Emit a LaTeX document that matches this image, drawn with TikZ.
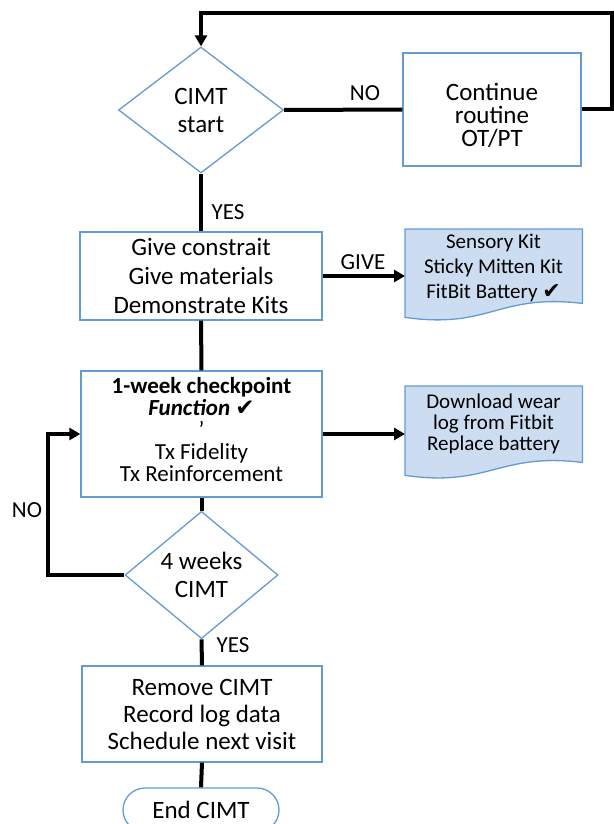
\documentclass[tikz,border=0pt]{standalone}
\usepackage{fontspec}
\setmainfont{Carlito}
\newfontfamily\symfont{DejaVu Sans}
\usetikzlibrary{shapes.geometric,arrows.meta}
\definecolor{boxblue}{RGB}{100,155,210}
\definecolor{docfill}{RGB}{204,221,241}
\newcommand{\tick}[1]{{\symfont\fontsize{#1}{#1}\selectfont ✔}}
\tikzset{
  conn/.style={line width=4pt,black},
  arr/.style={conn,-{Triangle[length=11pt,width=12pt]}},
  pbox/.style={draw=boxblue,line width=1.3pt,fill=white,rectangle,inner sep=0pt,align=center},
  dec/.style={draw=boxblue,line width=1.3pt,fill=white,diamond,inner sep=0pt,align=center},
  docbox/.style={rectangle,inner sep=0pt,align=center,anchor=north west},
  docshape/.style={draw=boxblue,line width=1.3pt,fill=docfill},
  lbl/.style={font=\fontsize{23}{23}\selectfont,inner sep=0pt},
  main/.style={font=\fontsize{25}{28}\selectfont},
}
\begin{document}
\begin{tikzpicture}[x=1pt,y=-1pt]
\useasboundingbox (0,0) rectangle (613,824);

% decision 1
\node[dec,main,minimum width=165pt,minimum height=126pt] (start) at (201,110) {CIMT\\start};
\node[pbox,minimum width=178pt,minimum height=113pt] (cont) at (492,109.5) {};
\node[font=\fontsize{25}{23}\selectfont,align=center,inner sep=0pt] (conttext) at (492,115) {Continue\\routine\\OT/PT};

% give box
\node[pbox,minimum width=242pt,minimum height=88pt,font=\fontsize{25}{29}\selectfont] (give) at (201,276) {Give constrait\\Give materials\\Demonstrate Kits};

% kit document
\node[docbox,minimum width=177pt,minimum height=74pt] (kit) at (405,229) {};
\draw[docshape] (kit.north west) -- (kit.north east) -- (kit.south east)
  .. controls +(-85,-10) and +(85,12) .. ([yshift=-14pt]kit.south west) -- cycle;
\node[font=\fontsize{21}{25}\selectfont,align=center,inner sep=0pt] (kittext) at (493.5,268) {Sensory Kit\\Sticky Mitten Kit\\FitBit Battery \tick{22}};

% checkpoint
\node[pbox,minimum width=241pt,minimum height=126pt] (check) at (201.5,434) {};
\node[font=\fontsize{23}{22}\selectfont,align=center,inner sep=0pt] (checktext) at (201.5,430)
  {\textbf{1-week checkpoint}\\\textbf{\textit{Function}} \tick{23}\\'\\Tx Fidelity\\Tx Reinforcement};

% log document
\node[docbox,minimum width=177pt,minimum height=76pt] (log) at (405,386) {};
\draw[docshape] (log.north west) -- (log.north east) -- (log.south east)
  .. controls +(-85,-10) and +(85,12) .. ([yshift=-13pt]log.south west) -- cycle;
\node[font=\fontsize{21}{21}\selectfont,align=center,inner sep=0pt] (logtext) at (493.5,424) {Download wear\\log from Fitbit\\Replace battery};

% decision 2
\node[dec,main,minimum width=153pt,minimum height=104pt] (weeks) at (201.5,575) {4 weeks\\CIMT};

% remove box
\node[pbox,minimum width=240pt,minimum height=96pt,font=\fontsize{25}{27}\selectfont] (rem) at (202,714) {Remove CIMT\\Record log data\\Schedule next visit};

% end
\node[draw=boxblue,line width=1.3pt,fill=white,rectangle,rounded corners=22pt,minimum width=156pt,minimum height=44pt,inner sep=0pt,main] (end) at (201,810) {End CIMT};

% connectors
\coordinate (tr) at (612,13);
\draw[arr] (cont.east) -| (tr) -| (start.north);
\draw[conn] (start.east) -- (cont.west);
\node[lbl] (no1) at (365,93) {NO};
\draw[conn] (start.south) -- (give.north);
\node[lbl] (yes1) at (228,212) {YES};
\draw[arr] (give.east) -- (give.east -| kit.west);
\node[lbl] (givel) at (363,262) {GIVE};
\draw[conn] (give.south) -- (check.north);
\draw[arr] (check.east) -- (check.east -| log.west);
\draw[conn] (check.south) -- (weeks.north);
\coordinate (nol) at (48,434);
\draw[arr] (weeks.west) -| (nol) -- (nol -| check.west);
\node[lbl] (no2) at (27,510) {NO};
\draw[conn] (weeks.south) -- (rem.north);
\node[lbl] (yes2) at (233,645) {YES};
\draw[conn] (rem.south) -- (end.north);
\end{tikzpicture}
\end{document}
